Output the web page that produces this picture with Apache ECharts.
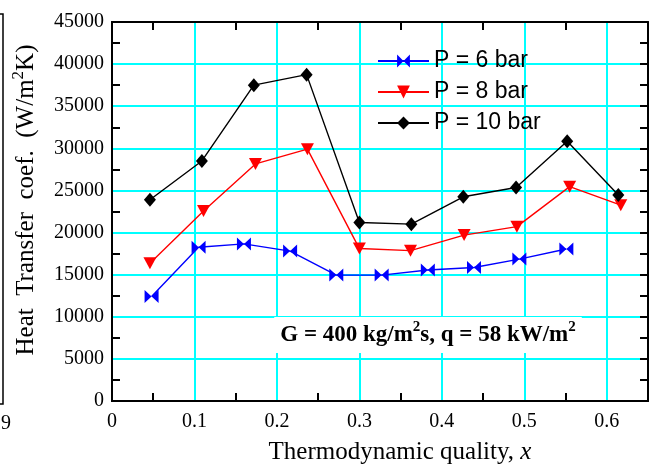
<!DOCTYPE html>
<html>
<head>
<meta charset="utf-8">
<script src="https://cdn.jsdelivr.net/npm/echarts@6/dist/echarts.min.js"></script>
<style>
    html, body { margin: 0; padding: 0; background: #fff; }
    #chart { width: 658px; height: 467px; }
</style>
</head>
<body>
<div id="chart"></div>
<script>
// values
const seriesNames = ['P = 6 bar', 'P = 8 bar', 'P = 10 bar'];
const qual6 = [0.048, 0.105, 0.160, 0.216, 0.272, 0.327, 0.383, 0.439, 0.494, 0.551];
const htc6 = [12400, 18250, 18650, 17800, 14950, 14950, 15550, 15850, 16850, 18050];
const qual8 = [0.046, 0.111, 0.174, 0.237, 0.300, 0.362, 0.427, 0.491, 0.555, 0.617];
const htc8 = [16350, 22550, 28150, 29900, 18100, 17850, 19700, 20700, 25450, 23250];
const qual10 = [0.046, 0.109, 0.172, 0.236, 0.300, 0.363, 0.426, 0.490, 0.552, 0.614];
const htc10 = [23900, 28500, 37500, 38750, 21200, 21000, 24250, 25350, 30850, 24450];

// tick positions (every half step, only the odd ones get a tick mark)
const xTickVals = ['0', '0.05', '0.1', '0.15', '0.2', '0.25', '0.3', '0.35', '0.4', '0.45', '0.5', '0.55', '0.6', '0.65'];
const yTickVals = ['0', '2500', '5000', '7500', '10000', '12500', '15000', '17500', '20000', '22500',
    '25000', '27500', '30000', '32500', '35000', '37500', '40000', '42500', '45000'];

const serif = 'Liberation Serif';
const bowtie = 'path://M0,0L0,10L5,5ZM10,0L10,10L5,5Z';

function makeSeries(name, xs, ys, color, symbol, size, rotate) {
    return {
        name: name,
        type: 'line',
        data: xs.map((x, i) => [x, ys[i]]),
        symbol: symbol,
        symbolSize: size,
        symbolRotate: rotate,
        showAllSymbol: true,
        lineStyle: {color: color, width: 1.4},
        itemStyle: {color: color}
    };
}

// axis that only draws the small inside ticks
function tickAxis(pos, vals) {
    return {
        type: 'category',
        position: pos,
        data: vals,
        boundaryGap: false,
        axisLine: {show: true, onZero: false, lineStyle: {color: '#000', width: 2}},
        axisTick: {
            show: true, inside: true, length: 8,
            interval: function (i) { return i % 2 === 1; },
            lineStyle: {color: '#000', width: 2}
        },
        axisLabel: {show: false},
        splitLine: {show: false}
    };
}

let option = {
    animation: false,
    grid: {left: 112, top: 22, right: 10, bottom: 66},
    xAxis: [
        {
            type: 'value',
            position: 'bottom',
            min: 0,
            max: 0.65,
            interval: 0.1,
            axisLine: {show: true, onZero: false, lineStyle: {color: '#000', width: 2}},
            axisTick: {show: false},
            axisLabel: {fontFamily: serif, fontSize: 20, color: '#000', margin: 11, showMaxLabel: false},
            splitLine: {show: true, lineStyle: {color: '#00ffff', width: 2}}
        },
        tickAxis('bottom', xTickVals),
        tickAxis('top', xTickVals)
    ],
    yAxis: [
        {
            type: 'value',
            position: 'left',
            min: 0,
            max: 45000,
            interval: 5000,
            axisLine: {show: true, onZero: false, lineStyle: {color: '#000', width: 2}},
            axisTick: {show: false},
            axisLabel: {fontFamily: serif, fontSize: 20, color: '#000', margin: 8, formatter: v => String(v)},
            splitLine: {show: true, lineStyle: {color: '#00ffff', width: 2}}
        },
        tickAxis('left', yTickVals),
        {
            type: 'value',
            position: 'right',
            min: 0,
            max: 45000,
            interval: 2500,
            axisLine: {show: true, onZero: false, lineStyle: {color: '#000', width: 2}},
            axisTick: {show: true, inside: true, length: 8, lineStyle: {color: '#000', width: 2}},
            axisLabel: {show: false},
            splitLine: {show: false}
        }
    ],
    legend: {
        orient: 'vertical',
        left: 372,
        top: 44,
        itemWidth: 51,
        itemHeight: 16,
        itemGap: 7,
        selectedMode: false,
        data: seriesNames,
        textStyle: {fontFamily: 'Liberation Sans', fontSize: 23, color: '#000', lineHeight: 24}
    },
    series: [
        makeSeries(seriesNames[0], qual6, htc6, '#0000ff', bowtie, [14, 13], 0),
        makeSeries(seriesNames[1], qual8, htc8, '#ff0000', 'triangle', [13, 12], 180),
        makeSeries(seriesNames[2], qual10, htc10, '#000000', 'diamond', [12, 14], 0)
    ],
    graphic: [
        {
            type: 'text',
            x: 428,
            y: 335,
            z: 100,
            style: {
                text: '{n|G = 400 kg/m}{s|2}{n|s, q = 58 kW/m}{s|2}',
                align: 'center',
                verticalAlign: 'middle',
                backgroundColor: '#fff',
                padding: [3, 6],
                rich: {
                    n: {fontFamily: serif, fontWeight: 'bold', fontSize: 23, fill: '#000', lineHeight: 30},
                    s: {fontFamily: serif, fontWeight: 'bold', fontSize: 15, fill: '#000', verticalAlign: 'top', lineHeight: 18}
                }
            }
        },
        {
            type: 'text',
            x: 400,
            y: 452,
            style: {
                text: '{n|Thermodynamic quality, }{i|x}',
                align: 'center',
                verticalAlign: 'middle',
                rich: {
                    n: {fontFamily: serif, fontSize: 25, fill: '#000'},
                    i: {fontFamily: serif, fontSize: 25, fontStyle: 'italic', fill: '#000'}
                }
            }
        },
        {
            type: 'text',
            x: 26,
            y: 200,
            rotation: Math.PI / 2,
            style: {
                text: '{n|Heat  Transfer  coef.  (W/m}{s|2}{n|K)}',
                align: 'center',
                verticalAlign: 'middle',
                rich: {
                    n: {fontFamily: serif, fontSize: 25, fill: '#000', lineHeight: 32},
                    s: {fontFamily: serif, fontSize: 17, fill: '#000', verticalAlign: 'top', lineHeight: 18}
                }
            }
        },
        {
            type: 'polyline',
            shape: {points: [[0, 14], [3, 14], [3, 404], [0, 404]]},
            style: {stroke: '#000', lineWidth: 1.5, fill: null}
        },
        {
            type: 'text',
            x: -4,
            y: 414,
            style: {text: '.9', fontFamily: serif, fontSize: 20, fill: '#000'}
        }
    ]
};

let myChart = echarts.init(document.getElementById('chart'));
myChart.setOption(option);
</script>
</body>
</html>
